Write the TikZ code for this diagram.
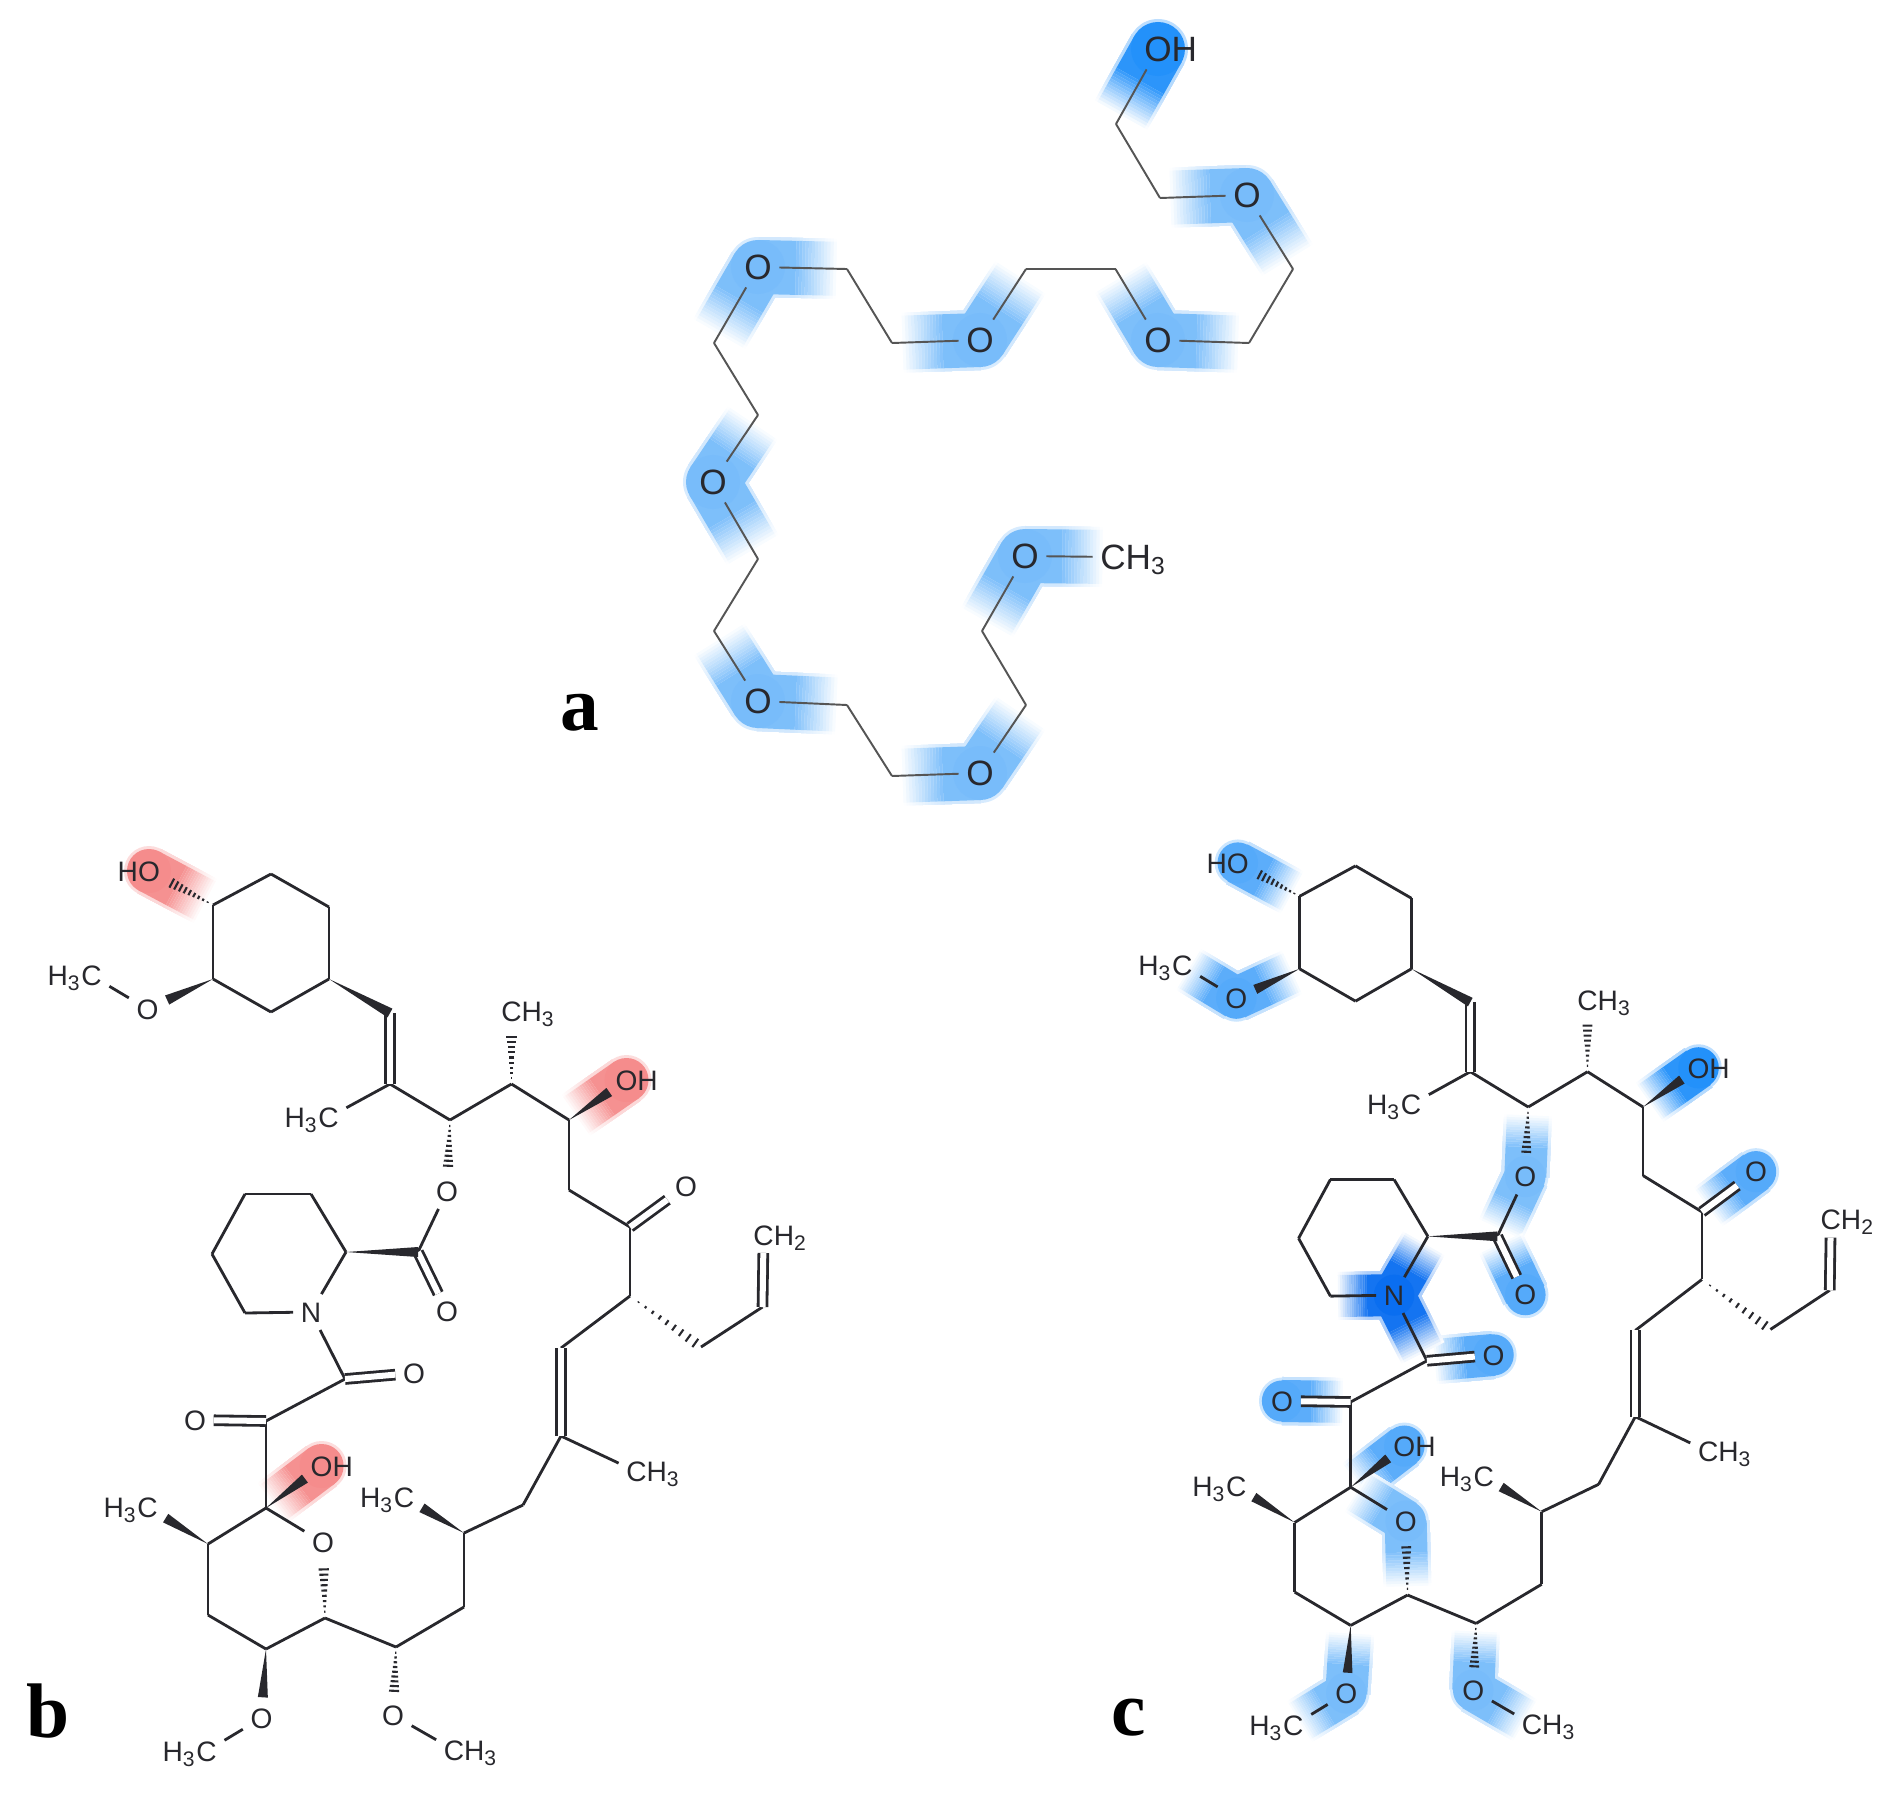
\documentclass[tikz,border=0pt]{standalone}
\usepackage{fontspec}
\setmainfont{Liberation Sans}
\newfontfamily\panelfont{Liberation Serif}
\usetikzlibrary{calc}

\definecolor{inkcol}{RGB}{40,40,45}
\definecolor{thincol}{RGB}{85,85,85}
\definecolor{halolight}{RGB}{120,188,250}
\definecolor{halomid}{RGB}{85,170,250}
\definecolor{halostrong}{RGB}{35,145,250}
\definecolor{halonit}{RGB}{10,110,240}
\definecolor{halored}{RGB}{245,140,140}

\pgfdeclarelayer{halos}
\pgfsetlayers{halos,main}

\tikzset{
  atom/.style={font=\fontsize{8}{9}\selectfont,text=inkcol,inner sep=2pt,text height=5.8pt,text depth=0pt},
  rlab/.style={label={[atom,label distance=-4.4pt]right:#1}},
  llab/.style={label={[atom,label distance=-4.4pt]left:#1}},
  bond/.style={draw=inkcol,line width=.8pt},
  dbl/.style={bond,double,double distance=.06cm},
  panel/.style={font=\panelfont\bfseries\fontsize{22}{24}\selectfont,text=black,inner sep=0pt}
}

% colour, width, atom, neighbours
\newcommand{\halo}[4]{%
  \fill[color=#1!30!white] (#3.center) circle[radius=#2/2+.03cm];
  \foreach \i [evaluate=\i as \f using .88-.035*\i,evaluate=\i as \k using int(5+7*\i)] in {0,...,13}{
    \foreach \n in {#4}{
      \draw[line width=#2+.06cm,color=#1!\k!white!35!white] (#3.center) -- ($(#3)!\f!(\n)$);
    }
    \foreach \n in {#4}{
      \draw[line width=#2,color=#1!\k!white] (#3.center) -- ($(#3)!\f!(\n)$);
    }
  }
  \fill[color=#1] (#3.center) circle[radius=#2/2];
}

% solid and hashed stereo bonds, narrow end first
\newcommand{\wedgebond}[3][.7]{%
  \path ($(#2)!#1!(#3)$) coordinate (tip);
  \fill[inkcol] (#2) -- ($(tip)!.05cm!90:(#2)$) -- ($(tip)!.05cm!-90:(#2)$) -- cycle;
}
\newcommand{\hashbond}[3][.7]{%
  \path ($(#2)!#1!(#3)$) coordinate (tip);
  \foreach \t in {.12,.22,...,1}{
    \path ($(#2)!\t!(tip)$) coordinate (mid);
    \draw[inkcol,line width=.6pt] ($(mid)!{\t*.055cm}!90:(#2)$) -- ($(mid)!{\t*.055cm}!-90:(#2)$);
  }
}

% the large ring molecule of panels b and c
\newcommand{\macrolide}{%
  % upper ring
  \coordinate (ra1) at (213,905);
  \coordinate (ra2) at (271,874);
  \coordinate (ra3) at (329,907);
  \coordinate (ra4) at (329,979);
  \coordinate (ra5) at (271,1012);
  \coordinate (ra6) at (213,979);
  \node[atom,llab=H] (oh1) at (149,871) {O};
  \node[atom] (om1) at (147.5,1009) {O};
  \node[atom,llab={H\textsubscript{3}}] (me1) at (91.5,975.6) {C};
  % large ring
  \coordinate (v1) at (390,1013);
  \coordinate (v2) at (390,1084);
  \node[atom,llab={H\textsubscript{3}}] (me2) at (328.5,1117.5) {C};
  \coordinate (c1) at (450,1120);
  \coordinate (c2) at (511.5,1084);
  \node[atom,rlab={H\textsubscript{3}}] (me3) at (511.5,1011) {C};
  \coordinate (c3) at (569,1120);
  \node[atom,rlab=H] (oh2) at (626.5,1080) {O};
  \coordinate (c4) at (569,1190);
  \coordinate (c5) at (630,1227);
  \node[atom] (ok) at (686,1186) {O};
  \coordinate (c6) at (630,1296);
  \coordinate (al1) at (701,1347);
  \coordinate (al2) at (762.5,1307);
  \node[atom,rlab={H\textsubscript{2}}] (ch2) at (763.6,1235) {C};
  \coordinate (c7) at (561,1348);
  \coordinate (c8) at (561,1436);
  \node[atom,rlab={H\textsubscript{3}}] (me4) at (636.5,1471.5) {C};
  \coordinate (c9) at (523,1505);
  \coordinate (c10) at (464,1533);
  \node[atom,llab={H\textsubscript{3}}] (me5) at (404,1497) {C};
  \coordinate (c11) at (464,1607);
  \coordinate (c12) at (396,1647);
  \node[atom] (om2) at (393,1715) {O};
  \node[atom,rlab={H\textsubscript{3}}] (me6) at (454,1750) {C};
  % lower ring
  \coordinate (c13) at (325,1618);
  \node[atom] (op) at (323,1542.5) {O};
  \coordinate (c14) at (266,1508);
  \node[atom,rlab=H] (oh3) at (321.6,1466) {O};
  \coordinate (c15) at (208,1544);
  \node[atom,llab={H\textsubscript{3}}] (me7) at (147.5,1507) {C};
  \coordinate (c16) at (208,1615);
  \coordinate (c17) at (266,1649);
  \node[atom] (om3) at (261.5,1718) {O};
  \node[atom,llab={H\textsubscript{3}}] (me8) at (206.6,1751) {C};
  % linker and nitrogen ring
  \coordinate (c18) at (266,1421);
  \node[atom] (od1) at (195,1420) {O};
  \coordinate (c19) at (345,1379);
  \node[atom] (od2) at (414,1373) {O};
  \node[atom] (nn) at (311,1312) {N};
  \coordinate (rb1) at (346,1252);
  \coordinate (rb2) at (311,1194);
  \coordinate (rb3) at (245,1194);
  \coordinate (rb4) at (212,1254);
  \coordinate (rb5) at (245,1313);
  \coordinate (c20) at (418,1252);
  \node[atom] (od3) at (447,1311.5) {O};
  \node[atom] (oe) at (447,1191) {O};
  % single bonds
  \foreach \u/\v in {ra1/ra2,ra2/ra3,ra3/ra4,ra4/ra5,ra5/ra6,ra6/ra1,om1/me1,v2/me2,v2/c1,c1/c2,c2/c3,c3/c4,c4/c5,c5/c6,c6/c7,al1/al2,c8/me4,c8/c9,c9/c10,c10/c11,c11/c12,c12/c13,c13/c17,c17/c16,c16/c15,c15/c14,c14/op,om2/me6,om3/me8,c14/c18,c18/c19,c19/nn,nn/rb1,rb1/rb2,rb2/rb3,rb3/rb4,rb4/rb5,rb5/nn,oe/c20}
    \draw[bond] (\u) -- (\v);
  % double bonds
  \foreach \u/\v in {v1/v2,c5/ok,c7/c8,al2/ch2,c19/od2,c18/od1,c20/od3}
    \draw[dbl] (\u) -- (\v);
  % stereo bonds
  \wedgebond{ra6}{om1}
  \wedgebond[1]{ra4}{v1}
  \wedgebond{c3}{oh2}
  \wedgebond[1]{rb1}{c20}
  \wedgebond{c10}{me5}
  \wedgebond{c14}{oh3}
  \wedgebond{c15}{me7}
  \wedgebond{c17}{om3}
  \hashbond{ra1}{oh1}
  \hashbond{c2}{me3}
  \hashbond{c1}{oe}
  \hashbond[1]{c6}{al1}
  \hashbond{c13}{op}
  \hashbond{c12}{om2}
}

\begin{document}
\begin{tikzpicture}[x=.01cm,y=-.01cm]

    \useasboundingbox (0,0) rectangle (1899,1814);

    % panel a, the chain
    \begin{scope}[atom/.append style={font=\fontsize{10}{12}\selectfont,text height=7.2pt},bond/.append style={draw=thincol,line width=.55pt}]
      \node[atom,rlab=H] (oh) at (1158,49) {O};
      \coordinate (a1) at (1116,124);
      \coordinate (a2) at (1160,198);
      \node[atom] (o1) at (1247,195) {O};
      \coordinate (a3) at (1293,269);
      \coordinate (a4) at (1249,343);
      \node[atom] (o2) at (1158,340) {O};
      \coordinate (a5) at (1115.5,269);
      \coordinate (a6) at (1026,269);
      \node[atom] (o3) at (980,340) {O};
      \coordinate (a7) at (892,343);
      \coordinate (a8) at (847,269);
      \node[atom] (o4) at (758,267) {O};
      \coordinate (a9) at (714,343);
      \coordinate (a10) at (758,415);
      \node[atom] (o5) at (713,482) {O};
      \coordinate (a11) at (758,559);
      \coordinate (a12) at (714,631);
      \node[atom] (o6) at (758,701) {O};
      \coordinate (a13) at (847,705);
      \coordinate (a14) at (892,776);
      \node[atom] (o7) at (980,773) {O};
      \coordinate (a15) at (1026,705);
      \coordinate (a16) at (982,631);
      \node[atom] (o8) at (1025,556) {O};
      \node[atom,rlab={H\textsubscript{3}}] (me) at (1113,557) {C};

      \foreach \u/\v in {oh/a1,a1/a2,a2/o1,o1/a3,a3/a4,a4/o2,o2/a5,a5/a6,a6/o3,o3/a7,a7/a8,a8/o4,o4/a9,a9/a10,a10/o5,o5/a11,a11/a12,a12/o6,o6/a13,a13/a14,a14/o7,o7/a15,a15/a16,a16/o8,o8/me}
        \draw[bond] (\u) -- (\v);

      \begin{pgfonlayer}{halos}
        \halo{halostrong}{.54cm}{oh}{a1}
        \foreach \o/\p/\q in {o1/a2/a3,o2/a4/a5,o3/a6/a7,o4/a8/a9,o5/a10/a11,o6/a12/a13,o7/a14/a15,o8/a16/me}{
          \halo{halolight}{.54cm}{\o}{\p,\q}
        }
      \end{pgfonlayer}
    \end{scope}

    % panel b
    \begin{scope}[name prefix=b-]
      \macrolide
      \begin{pgfonlayer}{halos}
        \halo{halored}{.44cm}{oh1}{ra1}
        \halo{halored}{.44cm}{oh2}{c3}
        \halo{halored}{.44cm}{oh3}{c14}
      \end{pgfonlayer}
    \end{scope}

    % panel c
    \begin{scope}[name prefix=c-,shift={(1094,9.4)},xscale=.965,yscale=.98]
      \macrolide
      \begin{pgfonlayer}{halos}
        \halo{halomid}{.42cm}{oh1}{ra1}
        \halo{halomid}{.42cm}{om1}{me1,ra6}
        \halo{halostrong}{.42cm}{oh2}{c3}
        \halo{halomid}{.42cm}{ok}{c5}
        \halo{halolight}{.42cm}{oe}{c1,c20}
        \halo{halomid}{.42cm}{od3}{c20}
        \halo{halomid}{.42cm}{od2}{c19}
        \halo{halomid}{.42cm}{od1}{c18}
        \halo{halomid}{.42cm}{oh3}{c14}
        \halo{halolight}{.42cm}{op}{c14,c13}
        \halo{halolight}{.42cm}{om2}{c12,me6}
        \halo{halolight}{.42cm}{om3}{c17,me8}
        \halo{halonit}{.42cm}{nn}{rb1,rb5,c19}
      \end{pgfonlayer}
    \end{scope}

    % panel letters
    \node[panel] (la) at (580,713) {a};
    \node[panel] (lb) at (48,1711) {b};
    \node[panel] (lc) at (1129,1718) {c};

\end{tikzpicture}
\end{document}
